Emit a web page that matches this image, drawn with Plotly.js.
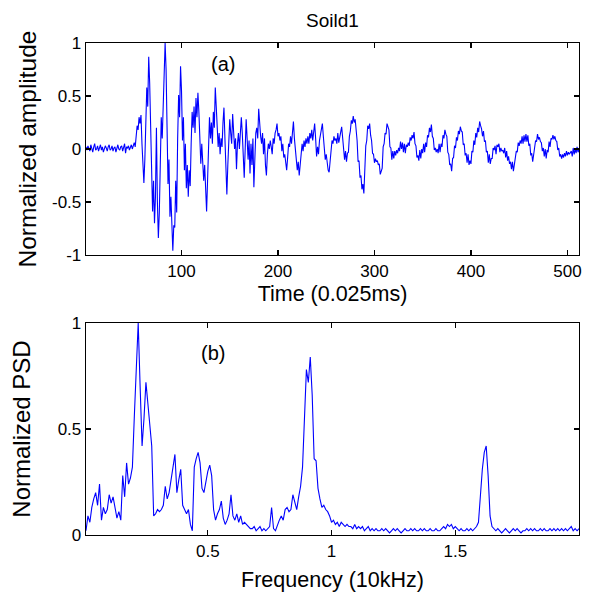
<!DOCTYPE html>
<html>
<head>
<meta charset="utf-8">
<script src="https://cdn.plot.ly/plotly-3.0.1.min.js"></script>
<style>html,body{margin:0;padding:0;background:#fff;}#chart{width:601px;height:593px;}</style>
</head>
<body>
<div id="chart"></div>
<script>
// ---- Data ----
const chartTitle = "Soild1";
const timeLabel = "Time (0.025ms)";
const ampLabel = "Normalized amplitude";
const freqLabel = "Frequency (10kHz)";
const psdLabel = "Normalized PSD";

// Normalized amplitude, samples 1..512 (0.025 ms each)
const amplitude = [
0.02,-0.01,0.03,0.00,-0.02,0.04,0.01,-0.03,0.02,0.05,-0.01,0.00,0.03,-0.02,0.01,0.04,-0.01,0.02,-0.03,0.00,
0.03,0.01,-0.02,0.02,0.04,-0.01,0.00,0.03,-0.02,0.01,0.02,-0.03,0.01,0.04,0.00,-0.01,0.02,0.03,-0.02,0.01,
0.05,-0.04,0.02,0.01,0.03,-0.01,0.02,0.04,0.00,0.03,0.06,0.02,
0.10,0.22,0.18,0.30,0.24,0.32,0.05,-0.20,-0.32,-0.10,0.35,0.58,0.40,0.87,0.62,
0.10,-0.35,-0.59,-0.30,-0.70,-0.45,0.20,-0.50,-0.84,-0.60,-0.20,0.30,
0.10,0.47,0.70,1.00,0.75,0.20,
-0.33,-0.10,-0.64,-0.45,-0.80,-0.96,-0.72,-0.74,-0.30,-0.60,
0.10,0.51,0.30,0.78,0.55,
0.08,0.30,-0.20,0.05,-0.37,-0.15,-0.45,-0.20,-0.35,0.05,
0.35,0.20,0.40,0.15,0.48,0.30,0.53,0.35,0.10,
-0.14,0.05,-0.10,-0.30,-0.15,-0.45,-0.59,-0.30,
0.05,0.30,0.10,0.25,0.05,0.35,0.20,0.58,0.40,0.10,
0.02,0.15,-0.05,0.10,0.02,0.25,0.39,0.10,-0.20,-0.43,-0.15,
0.10,0.28,0.15,0.05,0.33,0.20,0.00,0.10,-0.19,0.05,0.15,0.00,
0.20,0.30,0.15,-0.05,-0.27,0.00,0.28,0.10,-0.10,0.08,
-0.23,0.05,-0.15,0.10,-0.36,-0.10,0.15,0.20,0.10,0.38,0.22,0.12,0.05,0.15,-0.05,0.10,-0.15,-0.25,-0.05,0.05,
0.00,0.08,0.02,-0.05,0.10,0.05,0.15,0.18,0.24,0.12,
0.15,0.08,0.12,-0.02,0.05,-0.08,-0.05,-0.15,-0.20,-0.08,0.05,0.02,0.12,0.05,0.18,0.26,0.10,-0.05,-0.10,-0.20,
-0.12,-0.25,-0.15,-0.05,0.05,-0.02,0.08,0.02,0.10,0.05,
0.12,0.05,0.15,0.10,0.18,0.08,0.20,0.24,0.10,-0.07,0.02,-0.05,0.08,0.15,0.20,0.24,0.12,0.00,-0.10,-0.05,
-0.15,-0.20,-0.22,-0.10,0.00,0.08,0.05,0.12,0.08,0.10,
0.05,0.15,0.06,0.14,0.16,0.21,0.08,0.03,-0.10,-0.02,-0.12,-0.04,-0.03,0.12,0.17,0.27,0.24,0.31,0.25,0.28,
0.17,0.08,-0.12,-0.11,-0.27,-0.25,-0.38,-0.33,-0.42,-0.17,
0.03,0.08,0.22,0.19,0.24,0.13,0.08,-0.04,-0.05,-0.13,-0.09,-0.12,-0.11,-0.15,-0.14,-0.24,-0.21,-0.18,0.02,0.05,
0.15,0.14,0.24,0.20,0.18,0.02,0.01,-0.10,-0.02,-0.09,
-0.02,-0.06,-0.01,-0.04,0.01,-0.02,0.07,0.00,0.06,-0.03,0.05,-0.04,0.04,0.02,0.06,0.03,0.11,0.08,0.13,0.10,
0.16,0.05,0.03,-0.08,-0.06,-0.11,-0.01,-0.09,0.00,-0.04,
0.05,-0.03,0.06,0.02,0.13,0.11,0.20,0.16,0.23,0.12,0.10,-0.01,0.01,-0.03,0.00,-0.04,0.05,-0.03,0.05,0.02,
0.13,0.10,0.18,0.14,0.12,-0.03,-0.05,-0.15,-0.14,-0.21,
-0.09,-0.08,0.03,0.01,0.11,0.08,0.17,0.14,0.21,0.17,0.16,0.04,0.05,-0.06,-0.04,-0.13,-0.05,-0.15,-0.11,-0.14,
-0.02,-0.03,0.08,0.04,0.15,0.11,0.20,0.16,0.26,0.22,
0.19,0.12,0.17,0.07,0.08,-0.03,-0.02,-0.13,-0.05,-0.14,-0.09,-0.09,0.01,-0.01,0.03,-0.05,0.04,0.02,0.05,-0.03,
0.01,-0.02,-0.01,-0.04,0.01,-0.08,-0.02,-0.11,-0.07,-0.14,
-0.12,-0.19,-0.12,-0.21,-0.15,-0.12,-0.02,-0.03,0.06,0.03,0.08,0.05,0.12,0.05,0.13,0.07,0.14,0.07,0.13,0.03,
0.05,-0.06,-0.04,-0.12,-0.03,-0.01,0.08,0.07,0.14,0.09,
0.11,0.07,0.06,-0.02,0.01,-0.07,0.00,-0.09,-0.01,-0.03,0.07,0.02,0.10,0.09,0.13,0.09,0.12,0.08,0.07,-0.01,
0.01,-0.07,-0.05,-0.09,-0.05,-0.08,-0.04,-0.07,-0.02,-0.06,
-0.03,-0.05,-0.04,-0.02,-0.07,0.01,-0.05,0.00,-0.04,0.02,-0.03,-0.01
];

// Normalized PSD, bins 1..256 (bin width 4/512 in units of 10 kHz)
const psdBinWidth = 4 / 512;
const psd = [
0.02,0.09,0.06,0.13,0.17,0.20,0.14,0.24,0.07,0.13,0.10,0.12,0.19,0.15,0.18,0.12,0.08,0.11,0.07,0.28,
0.18,0.34,0.24,0.27,0.32,0.56,0.83,1.00,0.70,0.42,0.55,0.72,0.62,0.52,0.42,0.09,0.10,0.12,0.11,0.12,
0.14,0.23,0.17,0.20,0.27,0.32,0.38,0.20,0.26,0.31,0.14,0.12,0.10,0.12,0.05,0.02,0.32,0.36,0.39,0.34,
0.22,0.20,0.26,0.30,0.33,0.28,0.12,0.07,0.10,0.12,0.16,0.08,0.05,0.07,0.10,0.19,0.09,0.07,0.10,0.06,
0.09,0.05,0.06,0.05,0.04,0.03,0.03,0.04,0.02,0.03,0.04,0.02,0.03,0.02,0.03,0.04,0.13,0.03,0.02,0.05,
0.07,0.09,0.07,0.12,0.13,0.11,0.12,0.19,0.15,0.12,0.18,0.23,0.32,0.53,0.78,0.72,0.84,0.66,0.36,0.35,
0.22,0.17,0.13,0.14,0.12,0.11,0.09,0.06,0.07,0.05,0.06,0.04,0.06,0.05,0.04,0.05,0.04,0.04,0.03,0.05,
0.03,0.04,0.03,0.04,0.02,0.03,0.04,0.02,0.03,0.02,0.03,0.02,0.02,0.03,0.02,0.03,0.02,0.01,0.02,0.03,
0.02,0.03,0.02,0.01,0.02,0.03,0.02,0.02,0.03,0.02,0.03,0.02,0.02,0.03,0.02,0.03,0.02,0.02,0.03,0.02,
0.02,0.03,0.02,0.02,0.03,0.04,0.03,0.05,0.04,0.05,0.03,0.04,0.03,0.02,0.03,0.02,0.02,0.03,0.02,0.03,
0.02,0.03,0.04,0.06,0.19,0.31,0.39,0.42,0.28,0.09,0.04,0.03,0.02,0.03,0.02,0.01,0.02,0.03,0.02,0.01,
0.02,0.03,0.02,0.03,0.02,0.01,0.02,0.02,0.03,0.02,0.03,0.02,0.03,0.02,0.02,0.03,0.02,0.03,0.02,0.02,
0.03,0.02,0.03,0.02,0.03,0.02,0.03,0.02,0.03,0.02,0.03,0.04,0.02,0.03,0.02,0.03
];

const ampTicks = [-1, -0.5, 0, 0.5, 1];
const ampTickText = ["-1", "-0.5", "0", "0.5", "1"];
const timeTicks = [100, 200, 300, 400, 500];
const freqTicks = [0.5, 1, 1.5];
const freqTickText = ["0.5", "1", "1.5"];
const psdTicks = [0, 0.5, 1];
const psdTickText = ["0", "0.5", "1"];

// ---- Build axes samples ----
const time = amplitude.map((_, i) => i + 1);
const freq = psd.map((_, i) => (i + 1) * psdBinWidth);

const FONT = "Liberation Sans, Arial, Helvetica, sans-serif";
const lineStyle = {color: "#0000ff", width: 1.1};

const traces = [
  {x: time, y: amplitude, type: "scatter", mode: "lines", line: lineStyle, xaxis: "x", yaxis: "y", hoverinfo: "skip"},
  {x: freq, y: psd, type: "scatter", mode: "lines", line: lineStyle, xaxis: "x2", yaxis: "y2", hoverinfo: "skip"}
];

const axisCommon = {
  showline: true, linecolor: "#000", linewidth: 1.3, mirror: "ticks",
  ticks: "inside", ticklen: 5, tickwidth: 1.3, tickcolor: "#000",
  showgrid: false, zeroline: false,
  tickfont: {family: FONT, size: 17, color: "#000"}
};

const layout = {
  width: 601, height: 593,
  margin: {l: 86, r: 22, t: 43, b: 58, pad: 0},
  paper_bgcolor: "#fff", plot_bgcolor: "#fff",
  showlegend: false,
  font: {family: FONT, color: "#000"},
  title: {text: chartTitle, font: {family: FONT, size: 19, color: "#000"}, x: 0.5, xref: "paper", y: 1 - 20/593, yref: "container", yanchor: "middle"},
  xaxis: Object.assign({}, axisCommon, {
    domain: [0, 1], anchor: "y", range: [1, 512], tickvals: timeTicks,
    title: {text: timeLabel, font: {family: FONT, size: 21.5, color: "#000"}, standoff: 6}
  }),
  yaxis: Object.assign({}, axisCommon, {
    domain: [(535-255)/492, 1], anchor: "x", range: [-1, 1], tickvals: ampTicks, ticktext: ampTickText,
    title: {text: ampLabel, font: {family: FONT, size: 24.5, color: "#000"}, standoff: 8}
  }),
  xaxis2: Object.assign({}, axisCommon, {
    domain: [0, 1], anchor: "y2", range: [psdBinWidth, 2], tickvals: freqTicks, ticktext: freqTickText,
    title: {text: freqLabel, font: {family: FONT, size: 21.5, color: "#000"}, standoff: 12}
  }),
  yaxis2: Object.assign({}, axisCommon, {
    domain: [0, (535-323)/492], anchor: "x2", range: [0, 1], tickvals: psdTicks, ticktext: psdTickText,
    title: {text: psdLabel, font: {family: FONT, size: 24, color: "#000"}, standoff: 20}
  }),
  annotations: [
    {text: "(a)", xref: "x", yref: "y", x: 143, y: 0.80, showarrow: false, font: {family: FONT, size: 20, color: "#000"}},
    {text: "(b)", xref: "x2", yref: "y2", x: 0.52, y: 0.86, showarrow: false, font: {family: FONT, size: 20, color: "#000"}}
  ]
};

Plotly.newPlot("chart", traces, layout, {displayModeBar: false, staticPlot: true});
</script>
</body>
</html>
